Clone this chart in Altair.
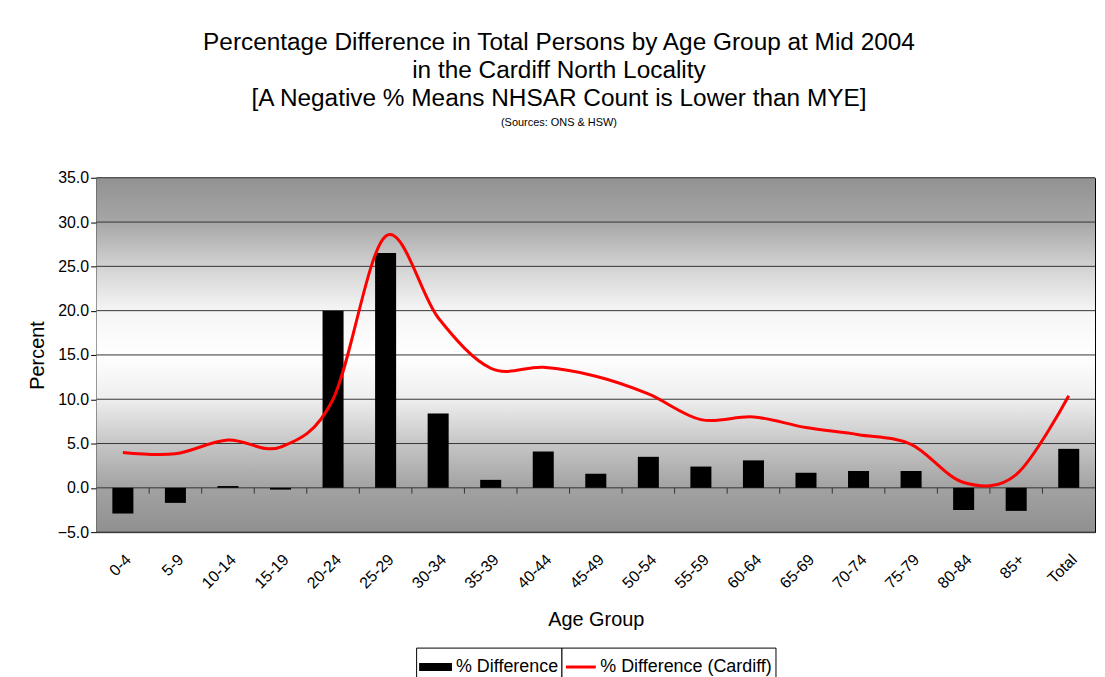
import altair as alt
import pandas as pd

groups = ["0-4", "5-9", "10-14", "15-19", "20-24", "25-29", "30-34", "35-39", "40-44",
          "45-49", "50-54", "55-59", "60-64", "65-69", "70-74", "75-79", "80-84", "85+", "Total"]
pct_diff = [-2.9, -1.7, 0.2, -0.2, 20.0, 26.5, 8.4, 0.9, 4.1,
            1.6, 3.5, 2.4, 3.1, 1.7, 1.9, 1.9, -2.5, -2.6, 4.4]
pct_diff_cardiff = [4.0, 3.85, 5.4, 4.6, 10.0, 28.4, 19.2, 13.5, 13.6,
                    12.6, 10.6, 7.7, 8.0, 6.8, 6.0, 4.9, 0.6, 1.5, 10.4]
y_ticks = [-5, 0, 5, 10, 15, 20, 25, 30, 35]
bar_series = "% Difference"
line_series = "% Difference (Cardiff)"

df = pd.DataFrame({
    "group": groups,
    "diff": pct_diff,
    "cardiff": pct_diff_cardiff,
    "bar_series": [bar_series] * len(groups),
    "line_series": [line_series] * len(groups),
})

W, H = 1003, 356
FONT = "Liberation Sans"
step = W / len(groups)

xscale = alt.Scale(domain=groups, paddingInner=0.6, paddingOuter=0.3)
xenc = alt.X("group:N", sort=groups, scale=xscale,
             axis=alt.Axis(title="Age Group", labelAngle=315, labelFontSize=16,
                           labelPadding=19, ticks=False, domain=False,
                           titleFontSize=20, titleFontWeight="normal",
                           titlePadding=19, labelColor="black", titleColor="black"))
yscale = alt.Scale(domain=[-5, 35], nice=False, zero=False)

gradient = alt.LinearGradient(
    gradient="linear", x1=0, x2=0, y1=0, y2=1,
    stops=[
        alt.GradientStop(offset=0.0, color="#929292"),
        alt.GradientStop(offset=0.125, color="#a6a6a6"),
        alt.GradientStop(offset=0.25, color="#d2d2d2"),
        alt.GradientStop(offset=0.375, color="#f5f5f5"),
        alt.GradientStop(offset=0.5, color="#ffffff"),
        alt.GradientStop(offset=0.625, color="#eeeeee"),
        alt.GradientStop(offset=0.75, color="#c6c6c6"),
        alt.GradientStop(offset=0.875, color="#a2a2a2"),
        alt.GradientStop(offset=1.0, color="#909090"),
    ],
)

background = alt.Chart(pd.DataFrame({"k": [0]})).mark_rect(color=gradient).encode(
    x=alt.value(0), x2=alt.value(W), y=alt.value(0), y2=alt.value(H)
)

grid = alt.Chart(pd.DataFrame({"v": y_ticks})).mark_rule(color="#333333", strokeWidth=1).encode(
    y=alt.Y("v:Q", scale=yscale,
            axis=alt.Axis(title="Percent", values=y_ticks, format=".1f",
                          labelFontSize=16, tickSize=6, tickColor="black",
                          domainColor="black", labelColor="black", grid=False,
                          titleFontSize=20, titleFontWeight="normal",
                          titleColor="black", titlePadding=10, labelPadding=2)),
    x=alt.value(0), x2=alt.value(W),
)

base = alt.Chart(df)

bars = base.mark_bar().encode(
    x=xenc,
    y=alt.Y("diff:Q", scale=yscale),
    fill=alt.Fill("bar_series:N",
                  scale=alt.Scale(domain=[bar_series], range=["#000000"]),
                  legend=alt.Legend(title=None, orient="none", legendX=321, legendY=472,
                                    symbolType="M-1,-0.25H1V0.25H-1Z", symbolSize=1089,
                                    labelFontSize=18, labelColor="black", labelLimit=300,
                                    strokeColor="black", fillColor="white",
                                    padding=3, labelOffset=4, symbolStrokeWidth=0)),
)

tick_marks = base.transform_filter(alt.datum.group != "Total").mark_rule(
    color="#333333", strokeWidth=1, xOffset=step / 2
).encode(
    x=alt.X("group:N", sort=groups, scale=xscale),
    y=alt.datum(0),
    y2=alt.datum(-0.65),
)

line = base.mark_line(interpolate="cardinal", strokeWidth=3).encode(
    x=alt.X("group:N", sort=groups, scale=xscale),
    y=alt.Y("cardiff:Q", scale=yscale),
    stroke=alt.Stroke("line_series:N",
                      scale=alt.Scale(domain=[line_series], range=["#ff0000"]),
                      legend=alt.Legend(title=None, orient="none", legendX=467, legendY=472,
                                        symbolType="stroke", symbolSize=900,
                                        symbolStrokeWidth=3,
                                        labelFontSize=18, labelColor="black", labelLimit=300,
                                        strokeColor="black", fillColor="white",
                                        padding=3, labelOffset=3)),
)

chart = alt.layer(background, grid, bars, tick_marks, line).resolve_scale(
    fill="independent", stroke="independent"
).properties(
    width=W, height=H,
    autosize=alt.AutoSizeParams(type="none"),
    padding={"left": 89, "top": 169, "right": 2, "bottom": 144},
    title=alt.TitleParams(
        text=["Percentage Difference in Total Persons by Age Group at Mid 2004",
              "in the Cardiff North Locality",
              "[A Negative % Means NHSAR Count is Lower than MYE]"],
        subtitle="(Sources: ONS & HSW)",
        fontSize=24.5, fontWeight="normal", lineHeight=28, color="black",
        subtitleFontSize=11, subtitleColor="black", subtitlePadding=6,
        anchor="middle", dx=-37, offset=41, font=FONT, subtitleFont=FONT,
    ),
).configure(
    font=FONT,
    background="white",
).configure_view(
    stroke="black", strokeWidth=1,
).configure_axis(
    labelFont=FONT, titleFont=FONT,
).configure_legend(
    labelFont=FONT,
)

chart.save("out.html", embed_options={"renderer": "svg", "actions": False})
